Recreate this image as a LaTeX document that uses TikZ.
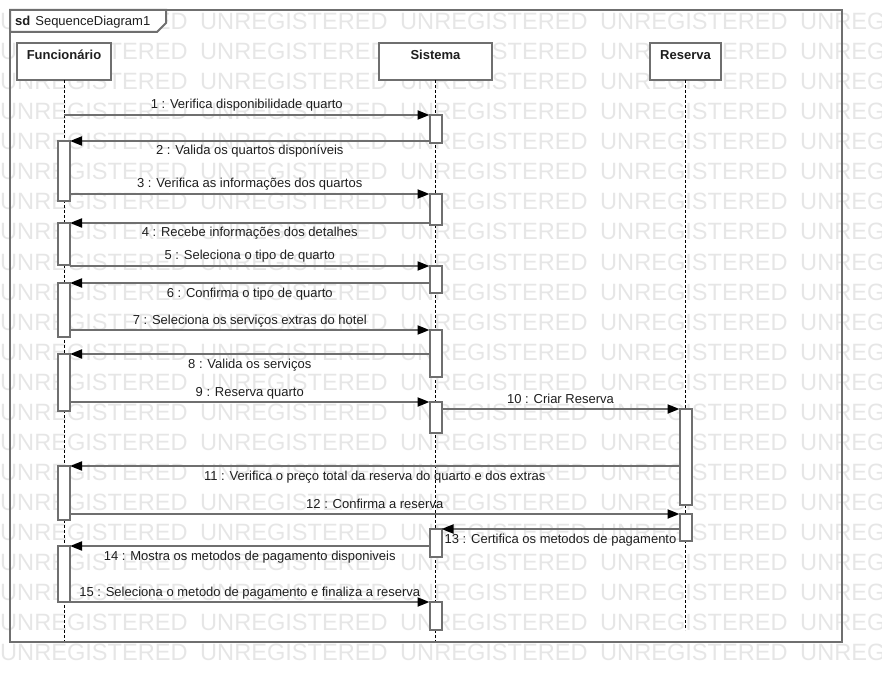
\documentclass[tikz,border=0pt]{standalone}
\usepackage{fontspec}
\setmainfont{Liberation Sans}
\usetikzlibrary{arrows.meta}
\definecolor{edge}{HTML}{6F6F6F}
\definecolor{wmark}{HTML}{E6E6E6}
\definecolor{ink}{HTML}{1E1E1E}
\begin{document}
\begin{tikzpicture}[x=1pt,y=-1pt,
  every node/.style={font=\fontsize{13}{15}\selectfont, text=ink},
  wm/.style={anchor=base west, inner sep=0, text=wmark, font=\fontsize{23.6}{28}\selectfont},
  frameline/.style={draw=edge, line width=2pt},
  headbox/.style={draw=edge, line width=2pt, fill=white, inner sep=0, outer sep=0,
    text height=17pt, text depth=20pt, minimum height=37pt,
    font=\bfseries\fontsize{13}{15}\selectfont, anchor=north},
  bar/.style={draw=edge, line width=2pt, fill=white, inner sep=0, outer sep=0,
    minimum width=12pt, anchor=north},
  lifeline/.style={draw=black, line width=1pt, dash pattern=on 3pt off 2pt},
  msg/.style={draw=edge, line width=2pt, -{Triangle[length=12pt,width=9pt,color=black]}},
  lblup/.style={midway, anchor=base, yshift=6pt, inner sep=0},
  lbldown/.style={midway, anchor=base, yshift=-14pt, inner sep=0},
]
\useasboundingbox (0,0) rectangle (882,684);

% background watermark rows
\begin{scope}
  \clip (0,0) rectangle (882,684);
  \foreach \r in {0,...,21}{
    \foreach \c in {0,...,4}{
      \node[wm] (wm-\r-\c) at ({200*\c},{30+30*\r}) {UNREGISTERED};
    }
  }
\end{scope}

% interaction frame with its name tab
\draw[frameline] (10,10) rectangle (842,642);
\draw[frameline, fill=white] (10,10) -- (166,10) -- (166,23) -- (157,32) -- (10,32) -- cycle;
\node[anchor=base west, inner sep=0] (title) at (15,26) {{\bfseries sd}\hspace{5pt}SequenceDiagram1};

% lifeline heads
\node[headbox, minimum width=94pt] (fh) at (64,43) {Funcionário};
\node[headbox, minimum width=113pt] (sh) at (435.5,43) {Sistema};
\node[headbox, minimum width=71pt] (rh) at (685.5,43) {Reserva};

% lifelines
\coordinate (fend) at (64,641);
\coordinate (send) at (435.5,641);
\coordinate (rend) at (685.5,630);
\draw[lifeline] (fh.south) -- (fend);
\draw[lifeline] (sh.south) -- (send);
\draw[lifeline] (rh.south) -- (rend);

% activation bars: Funcionario
\node[bar, minimum height=60pt] (fb1) at (64,141) {};
\node[bar, minimum height=42pt] (fb2) at (64,223) {};
\node[bar, minimum height=54pt] (fb3) at (64,283) {};
\node[bar, minimum height=57pt] (fb4) at (64,354) {};
\node[bar, minimum height=54pt] (fb5) at (64,466) {};
\node[bar, minimum height=56pt] (fb6) at (64,546) {};
% activation bars: Sistema
\node[bar, minimum height=28pt] (sb1) at (435.5,115) {};
\node[bar, minimum height=31pt] (sb2) at (435.5,194) {};
\node[bar, minimum height=27pt] (sb3) at (435.5,266) {};
\node[bar, minimum height=47pt] (sb4) at (435.5,330) {};
\node[bar, minimum height=31pt] (sb5) at (435.5,402) {};
\node[bar, minimum height=28pt] (sb6) at (435.5,529) {};
\node[bar, minimum height=28pt] (sb7) at (435.5,602) {};
% activation bars: Reserva
\node[bar, minimum height=96pt] (rb1) at (685.5,409) {};
\node[bar, minimum height=27pt] (rb2) at (685.5,514) {};

% messages
\draw[msg] (fh.south |- sb1.north) -- node[lblup] (t1) {1 : Verifica disponibilidade quarto} (sb1.north west);
\draw[msg] (sb1.west |- fb1.north) -- node[lbldown] (t2) {2 : Valida os quartos disponíveis} (fb1.north east);
\draw[msg] (fb1.east |- sb2.north) -- node[lblup] (t3) {3 : Verifica as informações dos quartos} (sb2.north west);
\draw[msg] (sb2.west |- fb2.north) -- node[lbldown] (t4) {4 : Recebe informações dos detalhes} (fb2.north east);
\draw[msg] (fb2.east |- sb3.north) -- node[lblup] (t5) {5 : Seleciona o tipo de quarto} (sb3.north west);
\draw[msg] (sb3.west |- fb3.north) -- node[lbldown] (t6) {6 : Confirma o tipo de quarto} (fb3.north east);
\draw[msg] (fb3.east |- sb4.north) -- node[lblup] (t7) {7 : Seleciona os serviços extras do hotel} (sb4.north west);
\draw[msg] (sb4.west |- fb4.north) -- node[lbldown] (t8) {8 : Valida os serviços} (fb4.north east);
\draw[msg] (fb4.east |- sb5.north) -- node[lblup] (t9) {9 : Reserva quarto} (sb5.north west);
\draw[msg] (sb5.east |- rb1.north) -- node[lblup] (t10) {10 : Criar Reserva} (rb1.north west);
\draw[msg] (rb1.west |- fb5.north) -- node[lbldown] (t11) {11 : Verifica o preço total da reserva do quarto e dos extras} (fb5.north east);
\draw[msg] (fb5.east |- rb2.north) -- node[lblup] (t12) {12 : Confirma a reserva} (rb2.north west);
\draw[msg] (rb2.west |- sb6.north) -- node[lbldown] (t13) {13 : Certifica os metodos de pagamento} (sb6.north east);
\draw[msg] (sb6.west |- fb6.north) -- node[lbldown] (t14) {14 : Mostra os metodos de pagamento disponiveis} (fb6.north east);
\draw[msg] (fb6.east |- sb7.north) -- node[lblup] (t15) {15 : Seleciona o metodo de pagamento e finaliza a reserva} (sb7.north west);
\end{tikzpicture}
\end{document}
